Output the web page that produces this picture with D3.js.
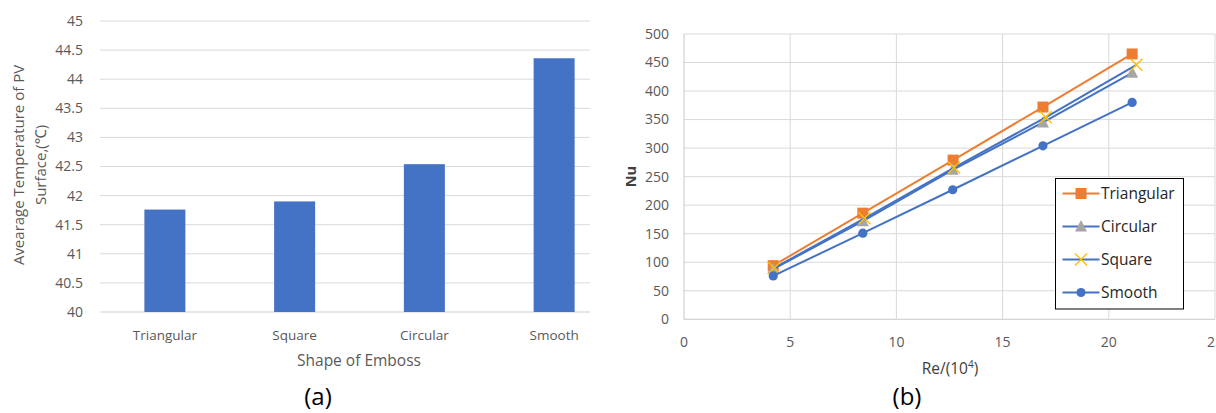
<!DOCTYPE html>
<html>
<head>
<meta charset="utf-8">
<script src="https://cdn.jsdelivr.net/npm/d3@7"></script>
<style>
  html, body { margin: 0; padding: 0; background: #fff; }
  svg { display: block; }
  text { font-family: "Open Sans", "Noto Sans", sans-serif; }
</style>
</head>
<body>
<svg id="fig" width="1216" height="413"></svg>
<script>
// ---- (a) average PV surface temperature by emboss shape ----
const shapes = ["Triangular", "Square", "Circular", "Smooth"];
const avgTemp = [41.76, 41.90, 42.54, 44.36];
const tempTicks = [40, 40.5, 41, 41.5, 42, 42.5, 43, 43.5, 44, 44.5, 45];

// ---- (b) Nusselt number vs Reynolds number ----
const seriesNames = ["Triangular", "Circular", "Square", "Smooth"];
const reTriangular = [4.2, 8.42, 12.67, 16.9, 21.1];
const nuTriangular = [94, 186, 279, 372, 465];
const reCircular = [4.2, 8.42, 12.65, 16.9, 21.1];
const nuCircular = [88, 172, 262, 345, 432];
const reSquare = [4.25, 8.5, 12.72, 17.03, 21.3];
const nuSquare = [90, 177, 266, 354, 446];
const reSmooth = [4.2, 8.42, 12.65, 16.9, 21.1];
const nuSmooth = [76, 151, 227, 304, 380];
const reTicks = [0, 5, 10, 15, 20, 25];
const nuTicks = [0, 50, 100, 150, 200, 250, 300, 350, 400, 450, 500];

const svg = d3.select("#fig");
const grid = "#d9d9d9";
const txt = "#595959";
const serif = "DejaVu Serif, Liberation Serif, serif";

// ================= Panel (a) =================
const a = svg.append("g");
const xA = d3.scaleBand().domain(shapes).range([100, 619]).paddingInner(0.684).paddingOuter(0.342);
const yA = d3.scaleLinear().domain([40, 45]).range([312, 21]);
const aRight = 590;

a.selectAll("line.grid").data(tempTicks).join("line")
  .attr("x1", 100).attr("x2", aRight)
  .attr("y1", d => yA(d)).attr("y2", d => yA(d))
  .attr("stroke", d => d === 40 ? "#cfcfcf" : grid).attr("stroke-width", 1);

a.selectAll("text.ytick").data(tempTicks).join("text")
  .attr("x", 83).attr("y", d => yA(d)).attr("dy", "0.35em")
  .attr("text-anchor", "end").attr("font-size", 14).attr("fill", txt)
  .text(d => d);

a.selectAll("rect.bar").data(shapes).join("rect")
  .attr("x", d => xA(d)).attr("width", xA.bandwidth())
  .attr("y", (d, i) => yA(avgTemp[i]))
  .attr("height", (d, i) => yA(40) - yA(avgTemp[i]))
  .attr("fill", "#4472C4");

a.selectAll("text.xtick").data(shapes).join("text")
  .attr("x", d => xA(d) + xA.bandwidth() / 2).attr("y", 340)
  .attr("text-anchor", "middle").attr("font-size", 13.5).attr("fill", txt)
  .text(d => d);

a.append("text").attr("x", 359).attr("y", 366)
  .attr("text-anchor", "middle").attr("font-size", 15.5).attr("fill", txt)
  .text("Shape of Emboss");

const aTitle = a.append("text").attr("transform", "translate(0,165) rotate(-90)")
  .attr("text-anchor", "middle").attr("font-size", 15).attr("fill", txt);
aTitle.append("tspan").attr("x", 0).attr("y", 24).text("Avearage Temperature of PV");
aTitle.append("tspan").attr("x", 0).attr("y", 46).text("Surface,(℃)");

svg.append("text").attr("x", 318).attr("y", 405).attr("text-anchor", "middle")
  .attr("font-family", serif).attr("font-size", 24)
  .attr("fill", "#000").text("(a)");

// ================= Panel (b) =================
const b = svg.append("g");
const xB = d3.scaleLinear().domain([0, 25]).range([684, 1215]);
const yB = d3.scaleLinear().domain([0, 500]).range([319.3, 34]);

b.selectAll("line.hgrid").data(nuTicks).join("line")
  .attr("x1", xB(0)).attr("x2", xB(25))
  .attr("y1", d => yB(d)).attr("y2", d => yB(d))
  .attr("stroke", d => d === 0 ? "#c8c8c8" : grid);
b.selectAll("line.vgrid").data(reTicks).join("line")
  .attr("x1", d => xB(d)).attr("x2", d => xB(d))
  .attr("y1", yB(0)).attr("y2", yB(500))
  .attr("stroke", d => d === 0 ? "#c8c8c8" : grid);

b.selectAll("text.ytick").data(nuTicks).join("text")
  .attr("x", 669).attr("y", d => yB(d)).attr("dy", "0.35em")
  .attr("text-anchor", "end").attr("font-size", 14).attr("fill", txt)
  .text(d => d);
b.selectAll("text.xtick").data(reTicks).join("text")
  .attr("x", d => xB(d)).attr("y", 347)
  .attr("text-anchor", "middle").attr("font-size", 14).attr("fill", txt)
  .text(d => d);

const reLabel = b.append("text").attr("x", 950).attr("y", 374)
  .attr("text-anchor", "middle").attr("font-size", 15.5).attr("fill", "#404040");
reLabel.append("tspan").text("Re/(10");
reLabel.append("tspan").attr("dy", -6).attr("font-size", 10).text("4");
reLabel.append("tspan").attr("dy", 6).text(")");

b.append("text").attr("transform", `translate(636,${yB(250)}) rotate(-90)`)
  .attr("text-anchor", "middle").attr("font-size", 14.5).attr("font-weight", "bold")
  .attr("fill", "#404040").text("Nu");

const series = [
  { name: "Triangular", x: reTriangular, y: nuTriangular, line: "#ED7D31", marker: "square", mcol: "#ED7D31" },
  { name: "Circular", x: reCircular, y: nuCircular, line: "#4472C4", marker: "triangle", mcol: "#A5A5A5" },
  { name: "Square", x: reSquare, y: nuSquare, line: "#4472C4", marker: "cross", mcol: "#FFC000" },
  { name: "Smooth", x: reSmooth, y: nuSmooth, line: "#4472C4", marker: "circle", mcol: "#4472C4" }
];

function drawMarker(g, type, col) {
  if (type === "square") {
    g.append("rect").attr("x", -5.5).attr("y", -5.5).attr("width", 11).attr("height", 11).attr("fill", col);
  } else if (type === "triangle") {
    g.append("path").attr("d", "M0,-6.5L6,5L-6,5Z").attr("fill", col);
  } else if (type === "cross") {
    g.append("path").attr("d", "M-6,-6L6,6M-6,6L6,-6").attr("stroke", col).attr("stroke-width", 1.4).attr("fill", "none");
  } else {
    g.append("circle").attr("r", 4.6).attr("fill", col);
  }
}

const line = d3.line().x(d => xB(d[0])).y(d => yB(d[1]));
series.forEach(s => {
  const pts = s.x.map((v, i) => [v, s.y[i]]);
  b.append("path").attr("d", line(pts)).attr("fill", "none")
    .attr("stroke", s.line).attr("stroke-width", 2);
  pts.forEach(p => {
    const g = b.append("g").attr("transform", `translate(${xB(p[0])},${yB(p[1])})`);
    drawMarker(g, s.marker, s.mcol);
  });
});

// legend
const lg = b.append("g");
lg.append("rect").attr("x", 1055.5).attr("y", 178.5).attr("width", 128).attr("height", 130.5)
  .attr("fill", "#fff").attr("stroke", "#000").attr("stroke-width", 1);
series.forEach((s, i) => {
  const cy = 193.5 + i * 33;
  lg.append("line").attr("x1", 1062.5).attr("x2", 1099.5).attr("y1", cy).attr("y2", cy)
    .attr("stroke", s.line).attr("stroke-width", 2);
  drawMarker(lg.append("g").attr("transform", `translate(1081,${cy})`), s.marker, s.mcol);
  lg.append("text").attr("x", 1101).attr("y", cy).attr("dy", "0.35em")
    .attr("font-size", 15.5).attr("fill", "#262626").text(s.name);
});

svg.append("text").attr("x", 907).attr("y", 405).attr("text-anchor", "middle")
  .attr("font-family", serif).attr("font-size", 24)
  .attr("fill", "#000").text("(b)");
</script>
</body>
</html>
